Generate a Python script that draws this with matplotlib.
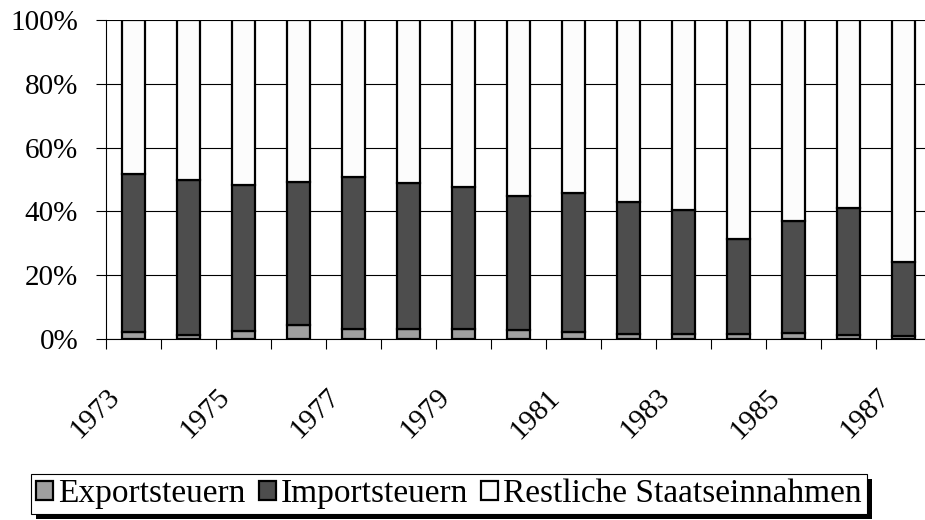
import numpy as np
import matplotlib.pyplot as plt
from matplotlib.patches import Rectangle
from matplotlib.transforms import ScaledTranslation
from matplotlib.ticker import PercentFormatter

plt.rcParams['font.family'] = ['Liberation Serif', 'DejaVu Serif']

years = list(range(1973, 1988))
# shares of total state revenue, in percent
export_tax = [2.3, 1.4, 2.6, 4.5, 3.0, 3.0, 3.0, 2.9, 2.3, 1.5, 1.5, 1.5, 2.0, 1.3, 0.8]
import_tax = [49.3, 48.6, 45.8, 44.8, 47.9, 46.0, 44.5, 41.9, 43.5, 41.3, 38.8, 29.7, 35.1, 39.9, 23.2]
rest = [100 - e - i for e, i in zip(export_tax, import_tax)]

labels = ['Exportsteuern', 'Importsteuern', 'Restliche Staatseinnahmen']
colors = ['#a0a0a0', '#4d4d4d', '#fcfcfc']

fig = plt.figure(figsize=(9.25, 5.2), dpi=100)
ax = fig.add_axes([106 / 925, 1 - 339 / 520, 825 / 925, 319 / 520])

x = np.arange(len(years))
bottom = np.zeros(len(years))
for vals, lab, col in zip([export_tax, import_tax, rest], labels, colors):
    ax.bar(x, vals, width=0.42, bottom=bottom, color=col, edgecolor='black',
           linewidth=1.6, label=lab, zorder=3)
    bottom += np.array(vals)

ax.set_ylim(0, 100)
ax.set_xlim(-0.5, len(years) - 0.5)
ax.set_yticks(np.arange(0, 101, 20))
ax.yaxis.set_major_formatter(PercentFormatter(decimals=0))
ax.grid(axis='y', color='black', linewidth=0.8, zorder=0)
ax.tick_params(axis='y', length=7, width=0.8, labelsize=21, pad=13)

# boundary ticks between categories, year labels on every second bar
ax.set_xticks(np.arange(-0.5, len(years), 1.0))
ax.set_xticklabels([])
ax.tick_params(axis='x', length=7, width=0.8)
shift = ScaledTranslation(-0.27, -0.45, fig.dpi_scale_trans)
for xi, yr in zip(x[::2], years[::2]):
    ax.text(xi, 0, str(yr), transform=ax.get_xaxis_transform() + shift,
            rotation=45, rotation_mode='anchor', ha='right', va='top', fontsize=21)

for side in ['top', 'right']:
    ax.spines[side].set_visible(False)
for side in ['left', 'bottom']:
    ax.spines[side].set_linewidth(0.8)

leg = fig.legend(loc='center', bbox_to_anchor=(449 / 925, 1 - 494 / 520), ncol=3,
                 fontsize=24, frameon=True, fancybox=False, edgecolor='black',
                 handlelength=0.5, handleheight=0.5, handletextpad=0.15,
                 columnspacing=0.4, borderpad=0.15, borderaxespad=0)
leg.get_frame().set_linewidth(0.8)
leg.get_frame().set_alpha(1)
leg.set_zorder(6)

# solid drop shadow under the legend box
fig.canvas.draw()
bb = leg.get_frame().get_window_extent()
fig.add_artist(Rectangle((bb.x0 + 5, bb.y0 - 5), bb.width, bb.height,
                         transform=None, facecolor='black', edgecolor='none', zorder=5))

fig.savefig('out.png', dpi=100)
